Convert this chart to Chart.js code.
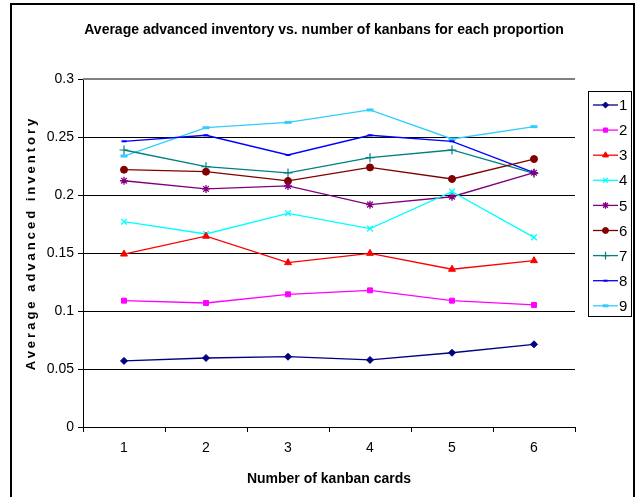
<!DOCTYPE html>
<html>
<head>
<meta charset="utf-8">
<script src="https://cdn.jsdelivr.net/npm/chart.js@4.4.1/dist/chart.umd.min.js"></script>
<style>
  html, body { margin: 0; padding: 0; background: #fff; }
</style>
</head>
<body>
<canvas id="chart" width="639" height="497"></canvas>
<script>
// x categories and y tick labels
const kanbans = ['1', '2', '3', '4', '5', '6']
const yTicks = ['0', '0.05', '0.1', '0.15', '0.2', '0.25', '0.3']

// average advanced inventory, one array per proportion
const prop1 = [0.057, 0.0595, 0.0606, 0.0578, 0.064, 0.0713]
const prop2 = [0.1089, 0.1069, 0.1144, 0.1178, 0.1089, 0.1052]
const prop3 = [0.1491, 0.1645, 0.1417, 0.1497, 0.136, 0.1434]
const prop4 = [0.177, 0.1664, 0.1842, 0.171, 0.2029, 0.1635]
const prop5 = [0.2123, 0.2052, 0.2078, 0.1917, 0.1985, 0.2192]
const prop6 = [0.2218, 0.2201, 0.2121, 0.2238, 0.2138, 0.231]
const prop7 = [0.2388, 0.2244, 0.219, 0.2322, 0.2388, 0.2187]
const prop8 = [0.2463, 0.2515, 0.2345, 0.2515, 0.2463, 0.2192]
const prop9 = [0.2336, 0.258, 0.2626, 0.2733, 0.2483, 0.2589]

const names = ['1', '2', '3', '4', '5', '6', '7', '8', '9']
const series = [prop1, prop2, prop3, prop4, prop5, prop6, prop7, prop8, prop9]
const colors = ['#000080', '#ff00ff', '#ff0000', '#00ffff', '#800080', '#800000', '#008080', '#0000ff', '#33ccff']
const markers = [
  { style: 'rectRot', r: 3.5, bw: 1 },
  { style: 'rect', r: 3.5, bw: 1 },
  { style: 'triangle', r: 4, bw: 1 },
  { style: 'crossRot', r: 4, bw: 1.3 },
  { style: 'star', r: 4, bw: 1.3 },
  { style: 'circle', r: 3.5, bw: 1 },
  { style: 'cross', r: 4.5, bw: 1.2 },
  { style: 'line', r: 2.5, bw: 2 },
  { style: 'line', r: 3.5, bw: 3 }
]

const datasets = series.map(function (data, i) {
  return {
    label: names[i],
    data: data,
    borderColor: colors[i],
    backgroundColor: colors[i],
    borderWidth: 1.3,
    pointStyle: markers[i].style,
    pointRadius: markers[i].r,
    pointBorderWidth: markers[i].bw,
    pointBackgroundColor: colors[i],
    pointBorderColor: colors[i],
    tension: 0
  }
})

const frame = {
  id: 'frame',
  beforeDraw (chart) {
    const ctx = chart.ctx
    ctx.save()
    ctx.fillStyle = '#fff'
    ctx.fillRect(0, 0, chart.width, chart.height)
    ctx.strokeStyle = '#000'
    ctx.lineWidth = 2
    ctx.strokeRect(11, 4, 623, 500)
    ctx.restore()
  },
  afterDraw (chart) {
    const ctx = chart.ctx
    const area = chart.chartArea
    ctx.save()
    // top border of the plot area
    ctx.strokeStyle = '#808080'
    ctx.lineWidth = 2
    ctx.beginPath()
    ctx.moveTo(area.left, area.top)
    ctx.lineTo(area.right, area.top)
    ctx.stroke()

    // title
    ctx.fillStyle = '#000'
    ctx.textAlign = 'center'
    ctx.textBaseline = 'middle'
    ctx.font = 'bold 14px "Liberation Sans", Arial, sans-serif'
    ctx.fillText('Average advanced inventory vs. number of kanbans for each proportion', 324, 30)

    // y axis title, spaced letters
    ctx.save()
    ctx.translate(31, 243)
    ctx.rotate(-Math.PI / 2)
    ctx.font = 'bold 13px "Liberation Sans", Arial, sans-serif'
    ctx.letterSpacing = '3px'
    ctx.fillText('Average advanced inventory', 0, 0)
    ctx.restore()

    // legend
    const lx = 588, ly = 91, lw = 43, lh = 225
    ctx.strokeStyle = '#000'
    ctx.lineWidth = 1
    ctx.strokeRect(lx + 0.5, ly + 0.5, lw, lh)
    ctx.font = '15px "Liberation Sans", Arial, sans-serif'
    ctx.textAlign = 'left'
    for (let i = 0; i < names.length; i++) {
      const y = 105 + i * 25.1
      ctx.strokeStyle = colors[i]
      ctx.fillStyle = colors[i]
      ctx.lineWidth = 1.3
      ctx.beginPath()
      ctx.moveTo(593, y)
      ctx.lineTo(618, y)
      ctx.stroke()
      ctx.lineWidth = markers[i].bw
      Chart.helpers.drawPoint(ctx, {
        pointStyle: markers[i].style,
        radius: markers[i].r * 0.85,
        rotation: 0,
        borderWidth: markers[i].bw
      }, 605.5, y)
      ctx.fillStyle = '#000'
      ctx.fillText(names[i], 619, y + 1)
    }
    ctx.restore()
  }
}

new Chart(document.getElementById('chart'), {
  type: 'line',
  data: {
    labels: kanbans,
    datasets: datasets
  },
  options: {
    responsive: false,
    animation: false,
    layout: {
      padding: { left: 11, top: 79, right: 64, bottom: 0 }
    },
    plugins: {
      legend: { display: false },
      title: { display: false },
      tooltip: { enabled: false }
    },
    scales: {
      x: {
        type: 'category',
        offset: true,
        afterFit (scale) { scale.height = 70 },
        grid: {
          offset: true,
          drawOnChartArea: false,
          drawTicks: true,
          tickLength: 5,
          color: '#000'
        },
        border: { display: true, color: '#000', width: 1 },
        ticks: {
          padding: 8,
          color: '#000',
          font: { family: '"Liberation Sans", Arial, sans-serif', size: 14 }
        },
        title: {
          display: true,
          text: 'Number of kanban cards',
          color: '#000',
          padding: { top: 0, bottom: 9 },
          font: { family: '"Liberation Sans", Arial, sans-serif', size: 14, weight: 'bold' }
        }
      },
      y: {
        min: 0,
        max: 0.3,
        afterFit (scale) { scale.width = 72 },
        grid: {
          color: '#000',
          lineWidth: 1,
          drawTicks: true,
          tickLength: 5
        },
        border: { display: true, color: '#000', width: 1 },
        ticks: {
          stepSize: 0.05,
          padding: 4,
          color: '#000',
          font: { family: '"Liberation Sans", Arial, sans-serif', size: 14 },
          callback: function (value, index) { return yTicks[index] }
        }
      }
    }
  },
  plugins: [frame]
})
</script>
</body>
</html>
